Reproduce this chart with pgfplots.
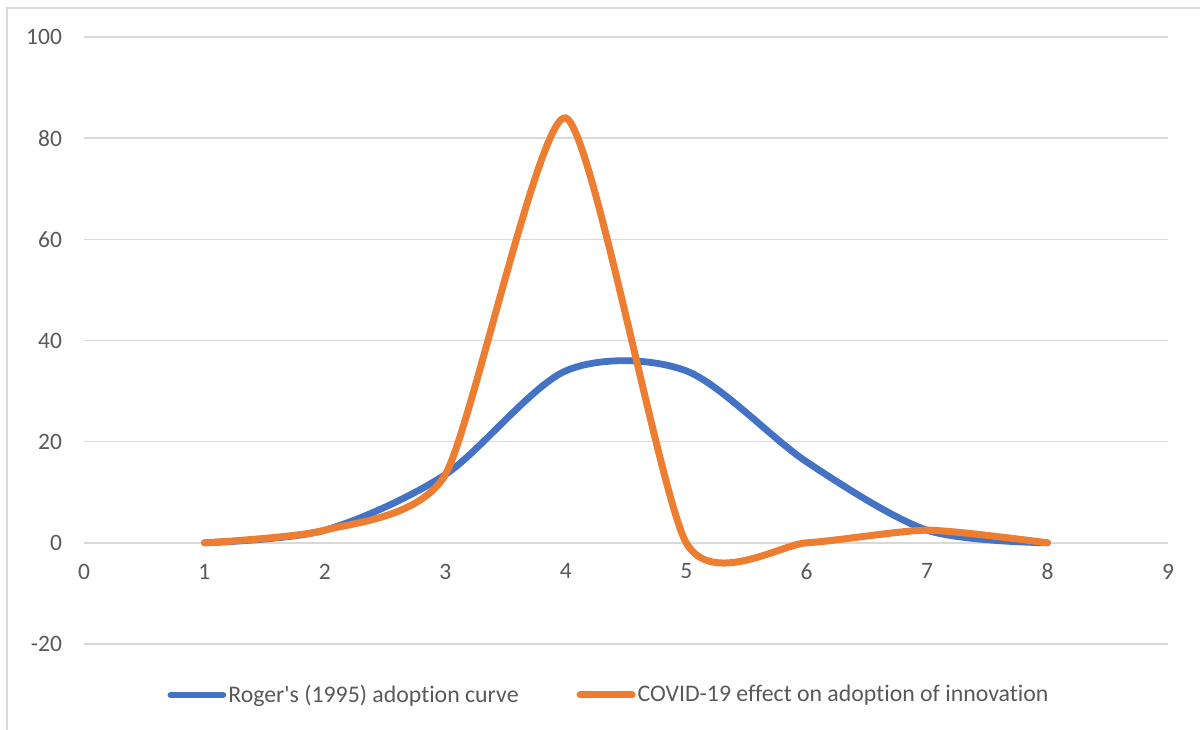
\documentclass[border=0pt]{standalone}
\usepackage{fontspec}
\setmainfont[Ligatures={NoCommon,NoRequired}]{Carlito}
\usepackage{pgfplots}
\pgfplotsset{compat=1.18}
\definecolor{rogersblue}{HTML}{4472C4}
\definecolor{covidorange}{HTML}{ED7D31}
\definecolor{gridgray}{HTML}{D9D9D9}
\definecolor{labelgray}{HTML}{595959}

\begin{document}
\begin{tikzpicture}
% page area and the thin chart frame
\path[use as bounding box] (0,0) rectangle (600pt,364.5pt);
\fill[white] (0,0) rectangle (600pt,364.5pt);
\draw[gridgray, line width=0.8pt] (3.5pt,-2pt) -- (3.5pt,360.5pt) -- (602pt,360.5pt);
\begin{axis}[
  at={(42pt,42.5pt)}, anchor=south west,
  scale only axis, width=542pt, height=303.5pt,
  xmin=0, xmax=9, ymin=-20, ymax=100,
  axis x line=middle, axis y line=left,
  axis line style={draw=none},
  hide obscured x ticks=false, hide obscured y ticks=false,
  xtick={0,1,...,9}, ytick={-20,0,20,40,60,80,100},
  ymajorgrids, grid style={gridgray, line width=0.8pt},
  major tick length=0pt, tick style={draw=none},
  /pgf/number format/assume math mode=true,
  ticklabel style={font=\fontsize{11.75}{14}\selectfont, text=labelgray},
  xticklabel style={anchor=north, yshift=-7pt},
  yticklabel style={anchor=east, xshift=-7.5pt},
  clip=false,
  legend columns=2,
  legend style={at={(0.4843,-0.084)}, anchor=center, draw=none, fill=none,
    font=\fontsize{11.9}{14}\selectfont, text=labelgray,
    nodes={inner sep=1pt},
    /tikz/every even column/.append style={column sep=28pt}},
  legend cell align=left,
  legend image code/.code={\draw[#1, line cap=round] (0pt,0pt) -- (26pt,0pt);},
]
\addplot[rogersblue, line width=3.4pt, line cap=round, smooth, tension=0.5]
  coordinates {(1,0) (2,2.5) (3,13.5) (4,34) (5,34) (6,16) (7,2.5) (8,0)};
\addlegendentry{Roger\textquotesingle s (1995) adoption curve}
\addplot[covidorange, line width=3.5pt, line cap=round, smooth, tension=0.38]
  coordinates {(1,0) (2,2.5) (3,13.5) (4,84) (5,0) (6,0) (7,2.5) (8,0)};
\addlegendentry{COVID-19 effect on adoption of innovation}
\end{axis}
\end{tikzpicture}
\end{document}
